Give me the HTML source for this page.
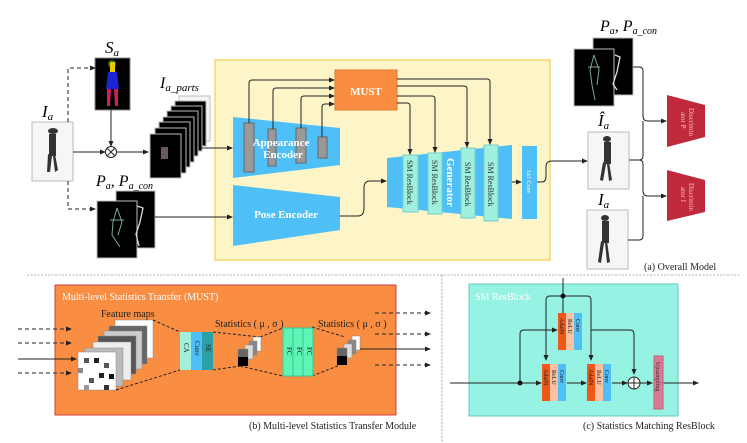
<!DOCTYPE html>
<html><head><meta charset="utf-8"><style>
html,body{margin:0;padding:0;background:#fff}
svg{display:block;font-family:"Liberation Serif",serif}
</style></head><body>
<svg width="747" height="443" viewBox="0 0 747 443" xmlns="http://www.w3.org/2000/svg">
<defs>
<marker id="a" markerWidth="6" markerHeight="6" refX="5" refY="3" orient="auto" markerUnits="userSpaceOnUse"><path d="M0,0.5L6,3L0,5.5z" fill="#222"/></marker>
</defs>
<rect x="215" y="60" width="335" height="200" fill="#fdf4c8" stroke="#f6d86e" stroke-width="1.5"/>
<text x="42" y="117" font-size="17" font-style="italic">I<tspan font-size="11" dy="3">a</tspan></text>
<rect x="32" y="122" width="41" height="59" fill="#f6f6f6" stroke="#bbb"/>
<g fill="#333"><ellipse cx="53" cy="131" rx="5" ry="3"/><rect x="49" y="134" width="7" height="22"/><path d="M48,154L47,172L50,172L52,156z M55,154L58,170L55,172L53,156z"/></g>
<text x="105" y="53" font-size="17" font-style="italic">S<tspan font-size="11" dy="3">a</tspan></text>
<rect x="95" y="58" width="35" height="52" fill="#000" stroke="#888"/>
<ellipse cx="112" cy="64" rx="4" ry="4" fill="#2a6a2a"/><rect x="110" y="62" width="5" height="10" fill="#e8c800"/>
<path d="M108,72L117,72L119,89L106,89z" fill="#1a24d0"/><path d="M107,89L111,89L110,106L107,106z M114,89L118,89L118,106L115,106z" fill="#d0205a"/>
<path d="M68,122V68H95" fill="none" stroke="#222" stroke-dasharray="4,3" marker-end="url(#a)"/>
<path d="M68,181V209H95" fill="none" stroke="#222" stroke-dasharray="4,3" marker-end="url(#a)"/>
<line x1="73" y1="152" x2="105" y2="152" stroke="#222" marker-end="url(#a)"/>
<line x1="111" y1="110" x2="111" y2="146" stroke="#222" marker-end="url(#a)"/>
<circle cx="111" cy="152" r="5.5" fill="#fff" stroke="#222"/>
<path d="M107,148L115,156M115,148L107,156" stroke="#222"/>
<line x1="117" y1="152" x2="148" y2="152" stroke="#222" marker-end="url(#a)"/>
<text x="160" y="88" font-size="16" font-style="italic">I<tspan font-size="11" dy="3">a_parts</tspan></text>
<g stroke="#bbb">
<rect x="179" y="96" width="31" height="45" fill="#f4f4f4"/>
<rect x="175" y="101" width="31" height="45" fill="#000"/>
<rect x="171" y="106" width="31" height="45" fill="#000"/>
<rect x="167" y="111" width="31" height="45" fill="#000"/>
<rect x="163" y="117" width="31" height="45" fill="#000"/>
<rect x="159" y="122" width="31" height="45" fill="#000"/>
<rect x="155" y="128" width="31" height="45" fill="#000"/>
<rect x="150" y="134" width="31" height="44" fill="#000"/>
</g>
<rect x="161" y="147" width="7" height="12" fill="#6a5a5a"/>
<line x1="201" y1="148" x2="232" y2="148" stroke="#222" marker-end="url(#a)"/>
<text x="96" y="186" font-size="16" font-style="italic">P<tspan font-size="10" dy="3">a</tspan><tspan dy="-3">, P</tspan><tspan font-size="10" dy="3">a_con</tspan></text>
<rect x="116" y="191" width="39" height="57" fill="#000" stroke="#bbb"/>
<rect x="97" y="201" width="40" height="57" fill="#000" stroke="#bbb"/>
<path d="M137,206L143,208L140,222L136,234L139,246" fill="none" stroke="#ddd" stroke-width="1.3"/>
<path d="M117,208L113,222L112,235L120,247M117,208L122,222L118,235M110,220L124,220" fill="none" stroke="#7a9" stroke-width="1"/>
<line x1="155" y1="217" x2="232" y2="217" stroke="#222" marker-end="url(#a)"/>
<path d="M233,117L340,128L340,165L233,178z" fill="#4fc0f7"/>
<g fill="#999" stroke="#666"><rect x="244" y="123" width="10" height="49"/><rect x="268" y="129" width="8" height="37"/><rect x="296" y="128" width="10" height="35"/><rect x="318" y="137" width="9" height="21"/></g>
<text x="281" y="146" font-size="11" fill="#fff" font-weight="bold" text-anchor="middle">Appearance</text>
<text x="283" y="158" font-size="11" fill="#fff" font-weight="bold" text-anchor="middle">Encoder</text>
<g fill="none" stroke="#222" marker-end="url(#a)">
<path d="M249,123V83Q249,80 252,80H334"/>
<path d="M273,129V91Q273,88 276,88H334"/>
<path d="M301,128V99Q301,96 304,96H334"/>
<path d="M322,137V107Q322,104 325,104H334"/>
</g>
<rect x="335" y="70" width="62" height="40" fill="#f98d42" stroke="#e07a30"/>
<text x="366" y="95" font-size="11" fill="#fff" font-weight="bold" text-anchor="middle">MUST</text>
<path d="M233,185L340,197L340,230L233,246z" fill="#4fc0f7"/>
<text x="286" y="218" font-size="11" fill="#fff" font-weight="bold" text-anchor="middle">Pose Encoder</text>
<path d="M340,216H358Q364,216 364,208V188Q364,181 370,181H386" fill="none" stroke="#222" marker-end="url(#a)"/>
<path d="M387,158L512,145L512,219L387,207z" fill="#4fc0f7"/>
<g fill="#9ff0dc" stroke="#7cc"><rect x="403" y="155" width="15" height="57"/><rect x="428" y="153" width="14" height="61"/><rect x="461" y="148" width="14" height="70"/><rect x="484" y="145" width="14" height="76"/></g>
<g font-size="8" fill="#333">
<text transform="translate(407,160) rotate(90)">SM ResBlock</text>
<text transform="translate(432,160) rotate(90)">SM ResBlock</text>
<text transform="translate(465,162) rotate(90)">SM ResBlock</text>
<text transform="translate(488,162) rotate(90)">SM ResBlock</text>
</g>
<text transform="translate(447,158) rotate(90)" font-size="11" fill="#fff" font-weight="bold">Generator</text>
<g fill="none" stroke="#222" marker-end="url(#a)">
<path d="M397,79H487Q490,79 490,82V144"/>
<path d="M397,86H464Q467,86 467,89V147"/>
<path d="M397,96H432Q435,96 435,99V152"/>
<path d="M397,103H407Q410,103 410,106V154"/>
</g>
<line x1="512" y1="182" x2="521" y2="182" stroke="#222" marker-end="url(#a)"/>
<rect x="522" y="146" width="15" height="73" fill="#4fc0f7"/>
<text transform="translate(527,170) rotate(90)" font-size="6" fill="#fff">1x1 Conv</text>
<path d="M537,182H542Q546,182 546,176V167Q546,161 552,161H587" fill="none" stroke="#222" marker-end="url(#a)"/>
<text x="600" y="31" font-size="16" font-style="italic">P<tspan font-size="10" dy="3">a</tspan><tspan dy="-3">, P</tspan><tspan font-size="10" dy="3">a_con</tspan></text>
<rect x="593" y="38" width="40" height="57" fill="#000" stroke="#bbb"/>
<rect x="574" y="49" width="40" height="57" fill="#000" stroke="#bbb"/>
<path d="M615,55L620,57L617,72L613,84L617,90" fill="none" stroke="#ddd" stroke-width="1.3"/>
<path d="M594,55L590,70L592,85L595,100M594,55L599,70L597,85M588,67L600,67" fill="none" stroke="#7a9"/>
<text x="598" y="126" font-size="17" font-style="italic">Î<tspan font-size="11" dy="3">a</tspan></text>
<rect x="588" y="132" width="41" height="57" fill="#f6f6f6" stroke="#bbb"/>
<g fill="#333"><ellipse cx="607" cy="139" rx="4" ry="3"/><rect x="604" y="142" width="7" height="22"/><path d="M603,162L600,180L603,181L606,164z M609,162L612,180L609,181L607,164z"/></g>
<text x="598" y="205" font-size="17" font-style="italic">I<tspan font-size="11" dy="3">a</tspan></text>
<rect x="587" y="210" width="41" height="59" fill="#f6f6f6" stroke="#bbb"/>
<g fill="#333"><ellipse cx="605" cy="218" rx="4" ry="3"/><rect x="602" y="221" width="7" height="22"/><path d="M601,241L598,262L601,263L604,243z M607,241L610,262L607,263L605,243z"/></g>
<g fill="none" stroke="#222">
<path d="M633,67H639Q643,67 643,71V116Q643,121 648,121H666" marker-end="url(#a)"/>
<path d="M629,160H639Q643,160 643,156V121"/>
<path d="M629,160H639Q643,160 643,164V191Q643,196 648,196H666" marker-end="url(#a)"/>
<path d="M628,240H639Q643,240 643,236V196"/>
</g>
<path d="M667,95L705,105L705,137L667,147z" fill="#c0283c"/>
<path d="M667,170L705,180L705,212L667,221z" fill="#c0283c"/>
<text transform="translate(689,108) rotate(90)" font-size="7" fill="#f3c0c8">Discrimin</text>
<text transform="translate(681,112) rotate(90)" font-size="7" fill="#f3c0c8">ator P</text>
<text transform="translate(689,183) rotate(90)" font-size="7" fill="#f3c0c8">Discrimin</text>
<text transform="translate(681,187) rotate(90)" font-size="7" fill="#f3c0c8">ator I</text>
<text x="644" y="270" font-size="10" fill="#222">(a) Overall Model</text>
<line x1="27" y1="275" x2="740" y2="275" stroke="#999" stroke-dasharray="2,1.5" stroke-width="0.8"/>
<line x1="442" y1="275" x2="442" y2="443" stroke="#999" stroke-dasharray="2,1.5" stroke-width="0.8"/>
<rect x="55" y="285" width="341" height="130" fill="#f98d42" stroke="#d0403a"/>
<text x="62" y="300" font-size="10" fill="#fff">Multi-level Statistics Transfer (MUST)</text>
<text x="101" y="317" font-size="10" fill="#222">Feature maps</text>
<g stroke="#222" fill="none" marker-end="url(#a)">
<line x1="18" y1="329" x2="71" y2="329" stroke-dasharray="4,3"/>
<line x1="18" y1="343" x2="71" y2="343" stroke-dasharray="4,3"/>
<line x1="18" y1="359" x2="76" y2="359"/>
<line x1="18" y1="373" x2="71" y2="373" stroke-dasharray="4,3"/>
</g>
<g stroke="#888" stroke-width="0.5">
<rect x="115" y="320" width="38" height="38" fill="#fff"/>
<rect x="109" y="326" width="38" height="38" fill="#666"/>
<rect x="104" y="331" width="38" height="38" fill="#ccc"/>
<rect x="98" y="336" width="38" height="38" fill="#555"/>
<rect x="93" y="342" width="38" height="38" fill="#eee"/>
<rect x="85" y="348" width="38" height="38" fill="#bbb"/>
<rect x="78" y="352" width="38" height="38" fill="#fff"/>
</g>
<g fill="#555"><rect x="84" y="358" width="5" height="5"/><rect x="94" y="358" width="5" height="5" fill="#222"/><rect x="104" y="363" width="5" height="5"/><rect x="78" y="368" width="5" height="5" fill="#888"/><rect x="99" y="373" width="5" height="5" fill="#222"/><rect x="89" y="378" width="5" height="5"/><rect x="109" y="374" width="5" height="5" fill="#111"/><rect x="84" y="385" width="5" height="5" fill="#999"/><rect x="104" y="385" width="5" height="5" fill="#333"/></g>
<g stroke="#222" stroke-dasharray="3,2" fill="none">
<line x1="153" y1="320" x2="180" y2="332"/><line x1="116" y1="390" x2="180" y2="370"/>
<line x1="213" y1="332" x2="260" y2="337"/><line x1="213" y1="370" x2="240" y2="366"/>
<line x1="260" y1="337" x2="283" y2="328"/><line x1="240" y1="366" x2="283" y2="376"/>
<line x1="312" y1="327" x2="345" y2="337"/><line x1="312" y1="376" x2="340" y2="365"/>
</g>
<rect x="180" y="332" width="11" height="38" fill="#a0f0dc"/><rect x="191" y="332" width="11" height="38" fill="#4fc0f7"/><rect x="202" y="332" width="11" height="38" fill="#2aa0a8"/>
<g font-size="7" fill="#222"><text transform="translate(184,343) rotate(90)">CA</text><text transform="translate(195,341) rotate(90)">Conv</text><text transform="translate(206,344) rotate(90)">SE</text></g>
<text x="215" y="327" font-size="10" fill="#222">Statistics ( μ , σ )</text>
<g stroke="#888" stroke-width="0.5"><rect x="253" y="337" width="8" height="14" fill="#fff"/><rect x="249" y="341" width="8" height="14" fill="#888"/><rect x="245" y="345" width="8" height="14" fill="#ddd"/><rect x="238" y="349" width="10" height="16" fill="#666"/></g><rect x="238" y="357" width="10" height="9" fill="#000"/>
<rect x="283" y="328" width="10" height="48" fill="#5ff5b5" stroke="#3c9"/><rect x="293" y="328" width="10" height="48" fill="#5ff5b5" stroke="#3c9"/><rect x="303" y="328" width="10" height="48" fill="#5ff5b5" stroke="#3c9"/>
<g font-size="7" fill="#222"><text transform="translate(287,347) rotate(90)">FC</text><text transform="translate(297,347) rotate(90)">FC</text><text transform="translate(307,347) rotate(90)">FC</text></g>
<text x="318" y="327" font-size="10" fill="#222">Statistics ( μ , σ )</text>
<g stroke="#888" stroke-width="0.5"><rect x="352" y="336" width="8" height="14" fill="#fff"/><rect x="348" y="340" width="8" height="14" fill="#888"/><rect x="344" y="344" width="8" height="14" fill="#ddd"/><rect x="337" y="348" width="10" height="16" fill="#666"/></g><rect x="337" y="356" width="10" height="9" fill="#000"/>
<g stroke="#222" fill="none" marker-end="url(#a)">
<line x1="375" y1="313" x2="430" y2="313" stroke-dasharray="4,3"/>
<line x1="375" y1="334" x2="430" y2="334" stroke-dasharray="4,3"/>
<line x1="360" y1="349" x2="430" y2="349"/>
<line x1="375" y1="365" x2="430" y2="365" stroke-dasharray="4,3"/>
</g>
<text x="249" y="429" font-size="10" fill="#222">(b) Multi-level Statistics Transfer Module</text>
<rect x="469" y="284" width="209" height="132" fill="#96f2e2" stroke="#66c8c0"/>
<text x="475" y="300" font-size="10" fill="#fff">SM ResBlock</text>
<g stroke="#222" fill="none">
<line x1="563" y1="278" x2="563" y2="313"/>
<path d="M563,296H550Q546,296 546,300V360" marker-end="url(#a)"/>
<path d="M563,296H587Q591,296 591,300V360" marker-end="url(#a)"/>
<path d="M520,383V334Q520,330 524,330H557" marker-end="url(#a)"/>
<path d="M591,330H630Q634,330 634,334V374" marker-end="url(#a)"/>
<line x1="450" y1="383" x2="541" y2="383" marker-end="url(#a)"/>
<line x1="567" y1="383" x2="586" y2="383" marker-end="url(#a)"/>
<line x1="612" y1="383" x2="627" y2="383" marker-end="url(#a)"/>
<line x1="640" y1="383" x2="652" y2="383" marker-end="url(#a)"/>
<line x1="662" y1="383" x2="698" y2="383" marker-end="url(#a)"/>
</g>
<circle cx="563" cy="296" r="2.5" fill="#111"/><circle cx="520" cy="383" r="2.5" fill="#111"/>
<g><rect x="558" y="313" width="8" height="37" fill="#f0581a"/><rect x="566" y="313" width="8" height="37" fill="#fbc0a0"/><rect x="574" y="313" width="8" height="37" fill="#4fc0f7"/></g>
<g><rect x="542" y="364" width="8" height="37" fill="#f0581a"/><rect x="550" y="364" width="8" height="37" fill="#fbc0a0"/><rect x="558" y="364" width="8" height="37" fill="#4fc0f7"/></g>
<g><rect x="587" y="364" width="8" height="37" fill="#f0581a"/><rect x="595" y="364" width="8" height="37" fill="#fbc0a0"/><rect x="603" y="364" width="8" height="37" fill="#4fc0f7"/></g>
<g font-size="6" fill="#222">
<text transform="translate(560,318) rotate(90)">AdaIN</text><text transform="translate(568,319) rotate(90)">ReLU</text><text transform="translate(576,319) rotate(90)">Conv</text>
<text transform="translate(544,369) rotate(90)">AdaIN</text><text transform="translate(552,370) rotate(90)">ReLU</text><text transform="translate(560,370) rotate(90)">Conv</text>
<text transform="translate(589,369) rotate(90)">AdaIN</text><text transform="translate(597,370) rotate(90)">ReLU</text><text transform="translate(605,370) rotate(90)">Conv</text>
</g>
<circle cx="634" cy="383" r="6" fill="#fff" stroke="#222"/><path d="M628,383H640M634,377V389" stroke="#222"/>
<rect x="654" y="356" width="9" height="53" fill="#d87a9a" stroke="#b66"/>
<text transform="translate(656,362) rotate(90)" font-size="6" fill="#333">Upsampling</text>
<text x="583" y="429" font-size="10" fill="#222">(c) Statistics Matching ResBlock</text>
</svg>
</body></html>
